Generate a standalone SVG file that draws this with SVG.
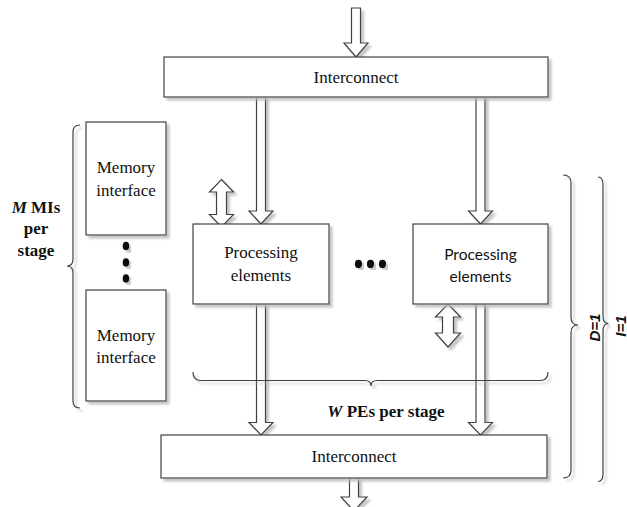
<svg xmlns="http://www.w3.org/2000/svg" width="627" height="507" viewBox="0 0 627 507">
<defs>
<filter id="sh" x="-20%" y="-20%" width="140%" height="140%">
<feDropShadow dx="3" dy="3" stdDeviation="0.8" flood-color="#b8b8b8" flood-opacity="0.8"/>
</filter>
<style>
.box{fill:#fff;stroke:#404040;stroke-width:1.2;filter:url(#sh)}
.arr{fill:#fff;stroke:#404040;stroke-width:1.2;filter:url(#sh)}
.ln{fill:none;stroke:#505050;stroke-width:1.3;filter:url(#sh)}
.br{fill:none;stroke:#404040;stroke-width:1.2;filter:url(#sh)}
.dot{fill:#111;filter:url(#sh)}
.t{font-family:"Liberation Serif","Times New Roman",serif;font-size:17px;fill:#111;text-anchor:middle}
.s{font-family:Lato,"Liberation Sans",sans-serif;font-size:15.5px;fill:#111;text-anchor:middle}
.b{font-family:"Liberation Serif","Times New Roman",serif;font-size:17px;font-weight:bold;fill:#111;text-anchor:middle}
.r{font-family:"Liberation Sans",Arial,sans-serif;font-size:15px;font-weight:bold;font-style:italic;fill:#111;text-anchor:middle}
</style>
</defs>
<rect width="627" height="507" fill="#fff"/>

<g id="connectors">
<path class="ln" d="M166,179.5 H548.5"/>
<path class="ln" d="M166,347 H548.5"/>
<path class="arr" d="M351.5,8 V43 H344 L356,57 L368,43 H360.5 V8 Z"/>
<path class="arr" d="M256.5,96 V211 H249 L261,224 L273,211 H265.5 V96 Z"/>
<path class="arr" d="M476,96 V211 H468.5 L480.5,224 L492.5,211 H485 V96 Z"/>
<path class="arr" d="M256.5,304 V422.5 H249 L261,435 L273,422.5 H265.5 V304 Z"/>
<path class="arr" d="M476,304 V422.5 H468.5 L480.5,435 L492.5,422.5 H485 V304 Z"/>
<path class="arr" d="M349.5,478 V497 H341 L354,511 L367,497 H358.5 V478 Z"/>
<path class="arr" d="M221.5,179.5 L233.5,192 H226.5 V214.5 H233.5 L221.5,227 L209.5,214.5 H216.5 V192 H209.5 Z"/>
<path class="arr" d="M448,304 L460.5,317 H453.5 V333 H460.5 L448,347 L435.5,333 H442.5 V317 H435.5 Z"/>
</g>

<g id="interconnect-top">
<rect class="box" x="164" y="57" width="384" height="40"/>
<text class="t" x="356" y="83">Interconnect</text>
</g>

<g id="memory-interface-1">
<rect class="box" x="86" y="122" width="80" height="113"/>
<text class="t" x="126" y="173">Memory</text>
<text class="t" x="126" y="196">interface</text>
</g>

<g id="memory-interface-2">
<rect class="box" x="86" y="290" width="80" height="111"/>
<text class="t" x="126" y="341">Memory</text>
<text class="t" x="126" y="363">interface</text>
</g>

<g id="mi-dots">
<ellipse class="dot" cx="126" cy="246" rx="3.3" ry="4.3"/>
<ellipse class="dot" cx="126" cy="262.5" rx="3.3" ry="4.3"/>
<ellipse class="dot" cx="126" cy="278.5" rx="3.3" ry="4.3"/>
</g>

<g id="pe-1">
<rect class="box" x="193" y="224" width="136" height="80"/>
<text class="t" x="261" y="258">Processing</text>
<text class="t" x="261" y="281">elements</text>
</g>

<g id="pe-dots">
<ellipse class="dot" cx="358.5" cy="264" rx="3.6" ry="4.2"/>
<ellipse class="dot" cx="370.5" cy="264" rx="3.6" ry="4.2"/>
<ellipse class="dot" cx="382.5" cy="264" rx="3.6" ry="4.2"/>
</g>

<g id="pe-2">
<rect class="box" x="413" y="224" width="135" height="80"/>
<text class="s" x="480.5" y="260">Processing</text>
<text class="s" x="480.5" y="282">elements</text>
</g>

<g id="interconnect-bottom">
<rect class="box" x="161" y="435" width="386" height="43"/>
<text class="t" x="354" y="462">Interconnect</text>
</g>

<g id="brace-mi">
<path class="br" d="M80,125 Q73,125 73,132 V259 Q73,266 67,266 Q73,266 73,273 V401 Q73,408 80,408"/>
<text class="b" x="36" y="213"><tspan font-style="italic">M</tspan> MIs</text>
<text class="b" x="36" y="234">per</text>
<text class="b" x="36" y="256">stage</text>
</g>

<g id="brace-pe">
<path class="br" d="M193,372 Q193,380.5 201,380.5 H365 Q371,380.5 371,386 Q371,380.5 377,380.5 H540 Q548,380.5 548,372"/>
<text class="b" x="386" y="417"><tspan font-style="italic">W</tspan> PEs per stage</text>
</g>

<g id="brace-d">
<path class="br" d="M563,175 Q571,175 571,183 V317 Q571,325 578,325 Q571,325 571,333 V470 Q571,478 563,478"/>
<text class="r" transform="translate(600,327.5) rotate(-90)">D=1</text>
</g>

<g id="brace-i">
<path class="br" d="M598,177 Q603,177 603,185 V316 Q603,323.5 608.5,323.5 Q603,323.5 603,331 V474 Q603,481.5 598,481.5"/>
<text class="r" transform="translate(625.5,326) rotate(-90)">I=1</text>
</g>
</svg>
